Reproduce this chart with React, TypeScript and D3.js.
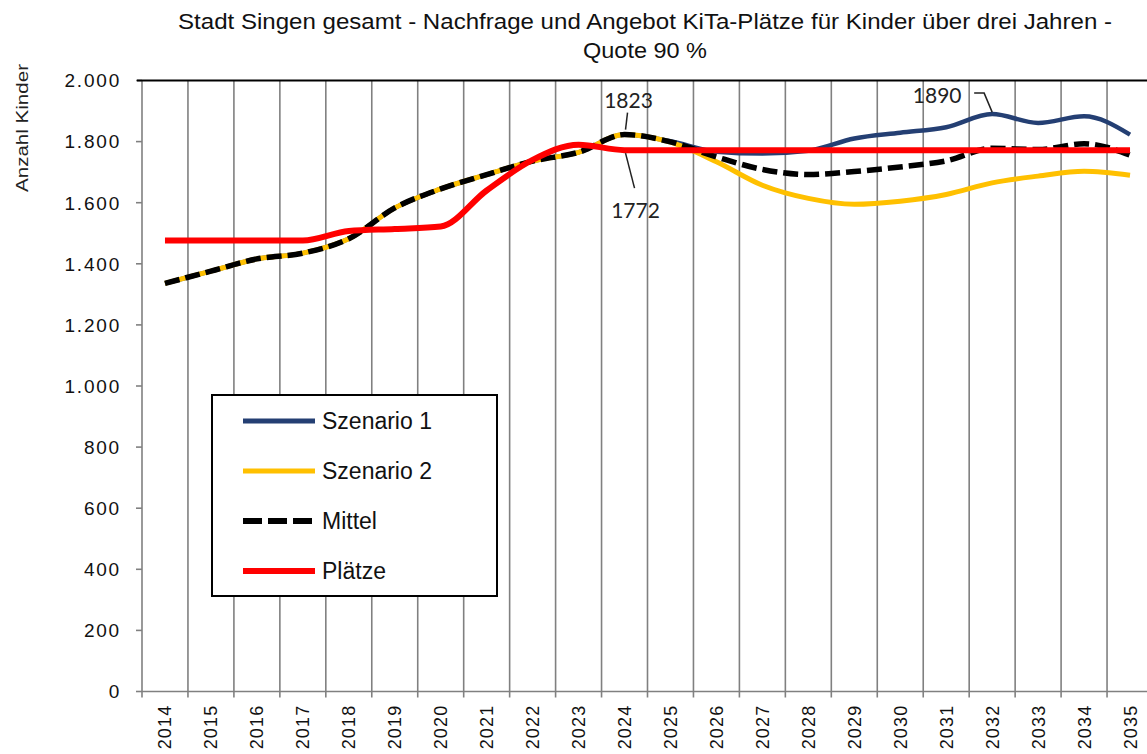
import React from "react";
import * as d3 from "d3";

const years = ["2014","2015","2016","2017","2018","2019","2020","2021","2022","2023","2024","2025","2026","2027","2028","2029","2030","2031","2032","2033","2034","2035"];
const szenario1 = [1336,1376,1416,1435,1482,1583,1645,1692,1736,1765,1823,1801,1767,1761,1770,1810,1829,1847,1890,1861,1883,1823];
const szenario2 = [1336,1376,1416,1435,1482,1583,1645,1692,1736,1765,1823,1798,1734,1657,1614,1595,1605,1627,1665,1687,1703,1690];
const mittel = [1336,1376,1416,1435,1482,1583,1645,1692,1736,1765,1823,1799,1750,1709,1692,1702,1717,1737,1778,1774,1793,1756];
const plaetze = [1476,1476,1476,1476,1507,1514,1522,1640,1740,1790,1772,1772,1772,1772,1772,1772,1772,1772,1772,1772,1772,1772];
const yTicks = [0,200,400,600,800,1000,1200,1400,1600,1800,2000];
const yTickLabels = ["0","200","400","600","800","1.000","1.200","1.400","1.600","1.800","2.000"];
const seriesNames = ["Szenario 1","Szenario 2","Mittel","Plätze"];
const titleLines = ["Stadt Singen gesamt - Nachfrage und Angebot KiTa-Plätze für Kinder über drei Jahren -","Quote 90 %"];

const W = 1147, H = 754;
const L = 142, R = 1153, T = 80.5, B = 691.5;

export default function App() {
  const x = d3.scaleBand<string>().domain(years).range([L, R]).padding(0);
  const bw = x.bandwidth();
  const cx = (i: number) => (x(years[i]) as number) + bw / 2;
  const y = d3.scaleLinear().domain([0, 2000]).range([B, T]);
  const line = d3.line<number>().x((_, i) => cx(i)).y((d) => y(d)).curve(d3.curveMonotoneX);

  const gridX = years.map((yr) => x(yr) as number).slice(1);
  const sans = "'Liberation Sans', Arial, sans-serif";
  const lab = "Lato, 'Open Sans', sans-serif";

  const i1823 = 10, i1772 = 10, i1890 = 18;
  const p1823 = { x: cx(i1823), y: y(mittel[i1823]) };
  const p1772 = { x: cx(i1772), y: y(plaetze[i1772]) };
  const p1890 = { x: cx(i1890), y: y(szenario1[i1890]) };

  const legend = [
    { name: seriesNames[0], color: "#243F73", w: 5, dash: undefined },
    { name: seriesNames[1], color: "#FFC000", w: 5, dash: undefined },
    { name: seriesNames[2], color: "#000", w: 6, dash: "19 6" },
    { name: seriesNames[3], color: "#FF0000", w: 6, dash: undefined },
  ];

  return (
    <svg width={W} height={H} style={{ position: "fixed", left: 0, top: 0, background: "#fff" }}>
      <rect x={0} y={0} width={W} height={H} fill="#fff" />
      {/* title */}
      <text x={645} y={29} textAnchor="middle" fontFamily={sans} fontSize={22} fill="#111" textLength={934} lengthAdjust="spacingAndGlyphs">{titleLines[0]}</text>
      <text x={645} y={58} textAnchor="middle" fontFamily={sans} fontSize={22} fill="#111" textLength={124} lengthAdjust="spacingAndGlyphs">{titleLines[1]}</text>
      {/* y axis title */}
      <text transform={`translate(22,128) rotate(-90)`} textAnchor="middle" dy="0.35em" fontFamily={sans} fontSize={16} fill="#222" textLength={128} lengthAdjust="spacingAndGlyphs">Anzahl Kinder</text>
      {/* gridlines */}
      {gridX.map((gx, i) => (
        <line key={"g" + i} x1={gx} x2={gx} y1={T} y2={B + 6} stroke="#808080" strokeWidth={1.6} />
      ))}
      {/* y axis */}
      <line x1={L} x2={L} y1={T} y2={B + 6} stroke="#808080" strokeWidth={1.6} />
      {yTicks.map((t, i) => (
        <g key={"yt" + i}>
          <line x1={L - 6} x2={L} y1={y(t)} y2={y(t)} stroke="#808080" strokeWidth={1.6} />
          <text x={121} y={y(t)} dy="0.36em" textAnchor="end" fontFamily={sans} fontSize={19} letterSpacing={1.8} fill="#111">{yTickLabels[i]}</text>
        </g>
      ))}
      {/* x axis */}
      <line x1={L} x2={R} y1={B} y2={B} stroke="#808080" strokeWidth={1.6} />
      <line x1={L - 5} x2={R} y1={T} y2={T} stroke="#000" strokeWidth={2.2} />
      {years.map((yr, i) => (
        <text key={"xl" + i} transform={`translate(${cx(i)},${B + 13}) rotate(-90)`} textAnchor="end" dy="0.36em" fontFamily={sans} fontSize={18} letterSpacing={1.2} fill="#111">{yr}</text>
      ))}
      {/* series */}
      <path d={line(szenario1) as string} fill="none" stroke="#243F73" strokeWidth={4.5} strokeLinejoin="round" />
      <path d={line(szenario2) as string} fill="none" stroke="#FFC000" strokeWidth={5} strokeLinejoin="round" />
      <path d={line(mittel) as string} fill="none" stroke="#000" strokeWidth={5.5} strokeDasharray="15 6" />
      <path d={line(plaetze) as string} fill="none" stroke="#FF0000" strokeWidth={6} strokeLinejoin="round" />
      {/* data labels */}
      <text x={p1823.x + 4} y={p1823.y - 27} textAnchor="middle" fontFamily={lab} fontSize={21} fill="#222">{String(mittel[i1823])}</text>
      <line x1={p1823.x + 3} y1={p1823.y - 22} x2={p1823.x + 1} y2={p1823.y - 5} stroke="#222" strokeWidth={1.5} />
      <text x={p1772.x + 11} y={p1772.y + 68} textAnchor="middle" fontFamily={lab} fontSize={21} fill="#222">{String(plaetze[i1772])}</text>
      <line x1={p1772.x + 10} y1={p1772.y + 38} x2={p1772.x + 1} y2={p1772.y + 3} stroke="#222" strokeWidth={1.5} />
      <text x={p1890.x - 55} y={p1890.y - 11} textAnchor="middle" fontFamily={lab} fontSize={21} fill="#222">{String(szenario1[i1890])}</text>
      <polyline points={`${p1890.x - 18},${p1890.y - 21} ${p1890.x - 8},${p1890.y - 21} ${p1890.x},${p1890.y - 2}`} fill="none" stroke="#222" strokeWidth={1.5} />
      {/* legend */}
      <rect x={212} y={395} width={285} height={201} fill="#fff" stroke="#000" strokeWidth={2} />
      {legend.map((lg, i) => (
        <g key={"lg" + i}>
          <line x1={243} x2={315} y1={421 + i * 50} y2={421 + i * 50} stroke={lg.color} strokeWidth={lg.w} strokeDasharray={lg.dash} />
          <text x={322} y={421 + i * 50} dy="0.36em" fontFamily={sans} fontSize={23} fill="#111">{lg.name}</text>
        </g>
      ))}
    </svg>
  );
}
